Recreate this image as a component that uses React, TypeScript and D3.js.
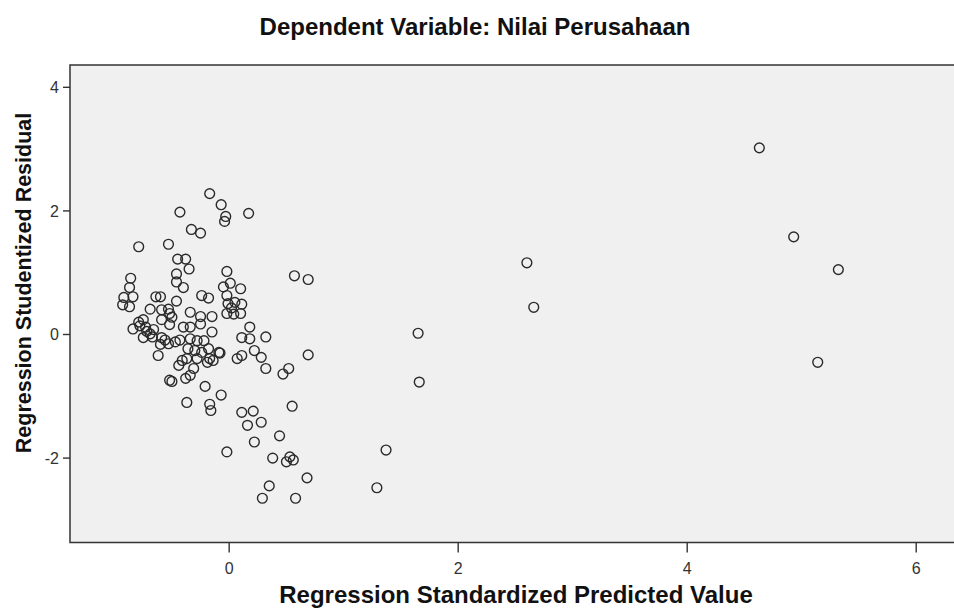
import React from "react";
import * as d3 from "d3";

const title = "Dependent Variable: Nilai Perusahaan";
const xLabel = "Regression Standardized Predicted Value";
const yLabel = "Regression Studentized Residual";
const xTicks = [0, 2, 4, 6];
const yTicks = [-2, 0, 2, 4];

const predicted = [
  4.63, 4.93, 5.32, 5.14, 2.6, 2.66, 1.65, 1.66, 1.37, 1.29,
  0.57, 0.69, 0.69, 0.68, 0.58, 0.55, 0.52, 0.47, 0.32, 0.32,
  0.28, 0.22, 0.18, 0.11, 0.18, 0.11, 0.21, 0.16, 0.28, 0.44,
  0.22, -0.02, 0.38, 0.53, 0.5, 0.56, 0.35, 0.29, -0.37, -0.17,
  -0.16, -0.07, -0.21,
  -0.17, -0.07, -0.03, -0.04, 0.17, -0.43, -0.33, -0.25, -0.79, -0.53,
  -0.45, -0.38, -0.35, -0.46, -0.46, -0.4, -0.02, -0.86, -0.87, -0.05,
  0.01, 0.1,
  -0.92, -0.84, -0.93, -0.87, -0.64, -0.6, -0.46, -0.24, -0.18, -0.02,
  -0.01, 0.05, 0.11, -0.02, 0.04, 0.1, 0.02, -0.69, -0.75, -0.79,
  -0.73, -0.84, -0.75, -0.59, -0.53, -0.52, -0.59, -0.52, -0.66, -0.67,
  -0.59, -0.34, -0.25, -0.15, -0.4, -0.34, -0.25, -0.15, -0.56, -0.53,
  -0.47, -0.43, -0.34, -0.28, -0.22, -0.36, -0.3, -0.24, -0.18, -0.09,
  -0.62, -0.17, -0.41, -0.37, -0.28, -0.44, -0.31, -0.38, -0.52, -0.34,
  0.07, 0.11, -0.08, -0.14, -0.19, -0.78, -0.72, -0.5, -0.6, -0.5, -0.69
];

const residual = [
  3.02, 1.58, 1.05, -0.45, 1.16, 0.44, 0.02, -0.77, -1.87, -2.48,
  0.95, 0.89, -0.33, -2.32, -2.65, -1.16, -0.55, -0.64, -0.55, -0.04,
  -0.37, -0.26, 0.12, -0.05, -0.07, -1.26, -1.24, -1.47, -1.42, -1.64,
  -1.74, -1.9, -2.0, -1.98, -2.06, -2.03, -2.45, -2.65, -1.1, -1.13,
  -1.23, -0.98, -0.84,
  2.28, 2.1, 1.91, 1.83, 1.96, 1.98, 1.7, 1.64, 1.42, 1.46,
  1.22, 1.22, 1.06, 0.98, 0.85, 0.76, 1.02, 0.91, 0.76, 0.77,
  0.83, 0.74,
  0.6, 0.61, 0.48, 0.45, 0.61, 0.61, 0.54, 0.63, 0.59, 0.63,
  0.5, 0.52, 0.49, 0.34, 0.33, 0.34, 0.43, 0.41, 0.24, 0.2,
  0.12, 0.09, -0.05, 0.4, 0.41, 0.34, 0.24, 0.16, 0.08, -0.04,
  -0.05, 0.36, 0.29, 0.29, 0.12, 0.12, 0.17, 0.04, -0.09, -0.15,
  -0.12, -0.09, -0.07, -0.1, -0.1, -0.23, -0.26, -0.29, -0.23, -0.29,
  -0.34, -0.39, -0.42, -0.39, -0.39, -0.5, -0.55, -0.71, -0.74, -0.66,
  -0.39, -0.34, -0.3, -0.42, -0.45, 0.14, 0.05, 0.28, -0.16, -0.76, 0.01
];

const W = 954;
const H = 611;
const left = 70;
const right = 954;
const top = 65;
const bottom = 542.5;
const font = "'Liberation Sans', Arial, sans-serif";

export default function App() {
  const x = d3.scaleLinear().domain([-1.39, 6.33]).range([left, right]);
  const y = d3.scaleLinear().domain([-3.366, 4.361]).range([bottom, top]);
  const pts = d3.zip(predicted, residual);

  return (
    <svg
      width={W}
      height={H}
      style={{ position: "absolute", left: 0, top: 0, background: "#fff" }}
      fontFamily={font}
    >
      <rect x={left} y={top} width={right - left + 5} height={bottom - top} fill="#f0f0f0" stroke="#333" strokeWidth={1.5} />
      {pts.map(([px, py], i) => (
        <circle key={i} cx={x(px)} cy={y(py)} r={4.9} fill="none" stroke="#2a2a2a" strokeWidth={1.4} />
      ))}
      {xTicks.map((t) => (
        <g key={"x" + t}>
          <line x1={x(t)} x2={x(t)} y1={bottom} y2={bottom + 10} stroke="#333" strokeWidth={1.4} />
          <text x={x(t)} y={bottom + 31} textAnchor="middle" fontSize={16} fill="#333">
            {t}
          </text>
        </g>
      ))}
      {yTicks.map((t) => (
        <g key={"y" + t}>
          <line x1={left - 7} x2={left} y1={y(t)} y2={y(t)} stroke="#333" strokeWidth={1.4} />
          <text x={left - 11} y={y(t) + 6} textAnchor="end" fontSize={16} fill="#333">
            {t}
          </text>
        </g>
      ))}
      <text x={475} y={35} textAnchor="middle" fontSize={24} fontWeight="bold" fill="#111">
        {title}
      </text>
      <text x={516} y={603} textAnchor="middle" fontSize={24} fontWeight="bold" fill="#111">
        {xLabel}
      </text>
      <text
        transform={`translate(31, 283) rotate(-90)`}
        textAnchor="middle"
        fontSize={21.5}
        fontWeight="bold"
        fill="#111"
      >
        {yLabel}
      </text>
    </svg>
  );
}
